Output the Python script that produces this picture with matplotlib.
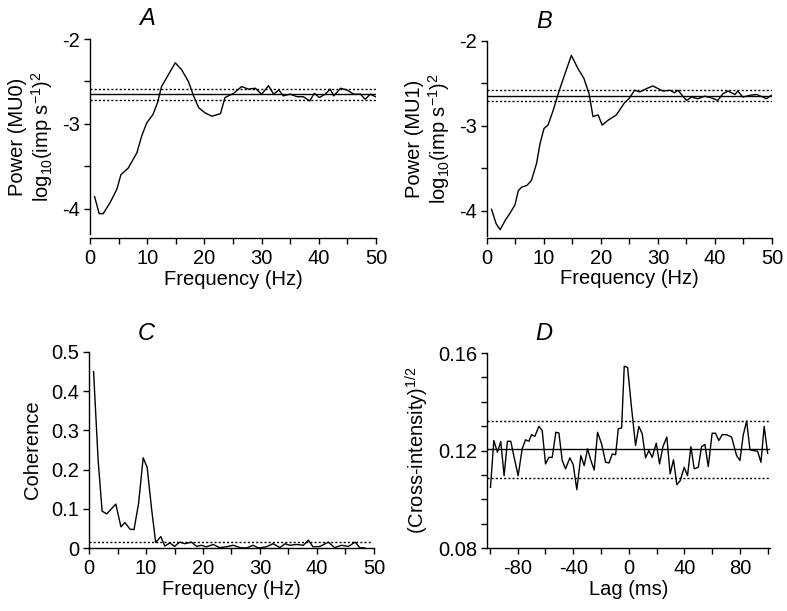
import matplotlib
matplotlib.use("Agg")
import matplotlib.pyplot as plt
from matplotlib.ticker import MultipleLocator, FixedLocator

plt.rcParams['font.family'] = ['Liberation Sans', 'DejaVu Sans']
plt.rcParams['mathtext.default'] = 'regular'
plt.rcParams['font.size'] = 14.5

# panel A: power spectrum MU0
freq_a = [0.8, 1.6, 2.3, 3.5, 4.7, 5.4, 6.7, 8.2, 9.0, 9.9, 11.0, 11.8, 12.5, 13.7, 14.9,
          16.0, 17.2, 18.1, 19.0, 20.1, 21.3, 22.8, 23.6, 25.1, 26.5, 27.7, 28.9, 30.0,
          31.2, 32.1, 33.0, 33.8, 35.0, 36.2, 37.3, 38.4, 39.2, 40.1, 41.1, 42.0, 42.6,
          43.8, 44.9, 46.1, 47.3, 48.1, 49.0, 49.9]
power_a = [-3.86, -4.06, -4.06, -3.93, -3.77, -3.60, -3.52, -3.34, -3.15, -2.99, -2.89,
           -2.75, -2.56, -2.42, -2.28, -2.36, -2.50, -2.67, -2.81, -2.87, -2.91, -2.88,
           -2.69, -2.64, -2.56, -2.59, -2.58, -2.65, -2.55, -2.65, -2.60, -2.67, -2.65,
           -2.68, -2.68, -2.73, -2.64, -2.69, -2.65, -2.59, -2.67, -2.58, -2.60, -2.65,
           -2.65, -2.71, -2.65, -2.68]
ref_a = [-2.651, -2.588, -2.714]  # mean, upper, lower

# panel B: power spectrum MU1
freq_b = [0.8, 1.6, 2.3, 3.2, 4.0, 4.9, 5.5, 6.1, 7.0, 7.8, 8.7, 9.3, 10.0, 10.7, 11.6,
          12.5, 13.3, 14.8, 16.0, 17.0, 17.9, 18.6, 19.5, 20.2, 21.3, 22.7, 24.2, 24.9,
          25.9, 26.8, 28.0, 29.1, 30.0, 30.9, 32.1, 32.9, 33.5, 35.0, 35.9, 37.0, 38.2,
          39.4, 40.5, 41.4, 42.3, 43.5, 44.0, 44.9, 46.1, 47.3, 48.4, 49.0, 49.9]
power_b = [-3.98, -4.15, -4.22, -4.11, -4.03, -3.93, -3.76, -3.72, -3.70, -3.64, -3.44,
           -3.21, -3.03, -2.99, -2.82, -2.62, -2.46, -2.17, -2.33, -2.44, -2.62, -2.89,
           -2.87, -2.99, -2.93, -2.87, -2.72, -2.68, -2.58, -2.60, -2.56, -2.53, -2.56,
           -2.59, -2.58, -2.61, -2.58, -2.70, -2.66, -2.68, -2.65, -2.67, -2.70, -2.62,
           -2.59, -2.63, -2.59, -2.66, -2.64, -2.63, -2.66, -2.68, -2.64]
ref_b = [-2.643, -2.580, -2.706]

# panel C: coherence
freq_c = [0.8, 1.6, 2.3, 3.1, 4.7, 5.6, 6.3, 7.2, 7.9, 8.7, 9.5, 10.2, 11.0, 11.7, 12.6,
          13.3, 14.2, 15.0, 15.9, 16.8, 18.0, 18.9, 19.7, 20.6, 21.8, 22.9, 24.1, 25.3,
          26.5, 27.6, 28.8, 29.7, 31.1, 32.3, 33.5, 34.4, 35.2, 36.4, 37.6, 38.5, 39.3,
          40.5, 42.0, 43.1, 44.3, 45.5, 46.7, 47.5, 48.4]
coh_c = [0.45, 0.224, 0.094, 0.087, 0.112, 0.054, 0.065, 0.048, 0.047, 0.114, 0.230,
         0.206, 0.097, 0.014, 0.029, 0.005, 0.013, 0.004, 0.015, 0.011, 0.015, 0.004,
         0.007, 0.003, 0.009, 0.001, 0.003, 0.007, 0.001, 0.0, 0.007, 0.0, 0.003, 0.011,
         0.001, 0.011, 0.007, 0.009, 0.007, 0.020, 0.003, 0.004, 0.015, 0.001, 0.007,
         0.004, 0.015, 0.001, 0.0]
coh_limit = 0.015

# panel D: cross-intensity
lag_d = [-99.5, -97.1, -94.5, -92.1, -89.7, -87.3, -84.9, -82.5, -79.6, -76.7, -74.3,
         -71.9, -70.0, -67.6, -64.7, -62.3, -59.9, -57.5, -55.1, -52.5, -50.3, -47.9,
         -45.5, -42.4, -40.0, -37.4, -34.5, -32.1, -29.7, -27.3, -24.9, -22.5, -19.6,
         -16.7, -14.3, -11.9, -9.5, -7.6, -5.2, -3.3, -0.9, 1.9, 4.8, 7.2, 9.6, 12.0,
         14.4, 16.8, 19.7, 22.1, 24.5, 27.3, 29.7, 32.1, 34.5, 36.9, 39.8, 42.2, 44.6,
         47.0, 49.9, 52.3, 54.7, 57.1, 59.9, 62.3, 64.7, 67.1, 70.3, 73.9, 77.5, 79.9,
         82.2, 84.7, 87.1, 89.4, 92.6, 95.0, 97.3, 99.8]
ci_d = [0.1049, 0.1241, 0.1193, 0.1237, 0.1097, 0.1238, 0.1238, 0.1172, 0.1097, 0.1207,
        0.1244, 0.1238, 0.1265, 0.1258, 0.1299, 0.1282, 0.1145, 0.1172, 0.1172, 0.1275,
        0.1272, 0.1159, 0.1125, 0.1170, 0.1142, 0.1039, 0.1179, 0.1138, 0.1207, 0.1159,
        0.1120, 0.1275, 0.1227, 0.1152, 0.1149, 0.1186, 0.1183, 0.1289, 0.1293, 0.1546,
        0.1541, 0.1378, 0.1221, 0.1299, 0.1269, 0.1170, 0.1200, 0.1172, 0.1230, 0.1145,
        0.1216, 0.1255, 0.1104, 0.1162, 0.1060, 0.1076, 0.1131, 0.1097, 0.1216, 0.1125,
        0.1131, 0.1216, 0.1225, 0.1134, 0.1271, 0.1271, 0.1241, 0.1265, 0.1265, 0.1255,
        0.1179, 0.1159, 0.1262, 0.1321, 0.1203, 0.1200, 0.1197, 0.1152, 0.1299, 0.1189]
ref_d = [0.1205, 0.1322, 0.1087]
lag_ticks = [-80, -40, 0, 40, 80]

LW = 1.0
FS = 14.5
DOTS = (0, (1.5, 1.5))


def style(ax):
    for s in ['top', 'right']:
        ax.spines[s].set_visible(False)
    ax.spines['left'].set_linewidth(1.0)
    ax.spines['bottom'].set_linewidth(1.0)
    ax.tick_params(which='both', direction='out', length=4, width=1.0, labelsize=FS, pad=3)
    ax.tick_params(axis='x', pad=4)


def letter(ax, s, y):
    ax.text(0.2, y, s, transform=ax.transAxes, fontsize=17, fontstyle='italic',
            ha='center', va='center')


fig = plt.figure(figsize=(7.87, 6.11), dpi=100)

# A
ax = fig.add_axes([0.1144, 0.617, 0.3634, 0.319])
ax.plot(freq_a, power_a, color='black', lw=LW)
ax.axhline(ref_a[0], color='black', lw=LW)
ax.axhline(ref_a[1], color='black', lw=LW, ls=DOTS)
ax.axhline(ref_a[2], color='black', lw=LW, ls=DOTS)
ax.set_xlim(0, 50)
ax.set_ylim(-4.3, -2)
ax.set_yticks([-4, -3, -2])
ax.set_yticklabels(['-4', '-3', '-2'])
ax.yaxis.set_minor_locator(FixedLocator([-3.5, -2.5]))
ax.xaxis.set_major_locator(MultipleLocator(10))
ax.xaxis.set_minor_locator(MultipleLocator(5))
ax.spines['bottom'].set_position(('outward', 3))
style(ax)
ax.set_xlabel('Frequency (Hz)', labelpad=1)
ax.set_ylabel('Power (MU0)\nlog$_{10}$(imp s$^{-1}$)$^2$', labelpad=5, linespacing=1.15)
letter(ax, 'A', 1.105)

# B
ax = fig.add_axes([0.6188, 0.613, 0.3621, 0.320])
ax.plot(freq_b, power_b, color='black', lw=LW)
ax.axhline(ref_b[0], color='black', lw=LW)
ax.axhline(ref_b[1], color='black', lw=LW, ls=DOTS)
ax.axhline(ref_b[2], color='black', lw=LW, ls=DOTS)
ax.set_xlim(0, 50)
ax.set_ylim(-4.3, -2)
ax.set_yticks([-4, -3, -2])
ax.set_yticklabels(['-4', '-3', '-2'])
ax.yaxis.set_minor_locator(FixedLocator([-3.5, -2.5]))
ax.xaxis.set_major_locator(MultipleLocator(10))
ax.xaxis.set_minor_locator(MultipleLocator(5))
ax.spines['bottom'].set_position(('outward', 1))
style(ax)
ax.set_xlabel('Frequency (Hz)', labelpad=1)
ax.set_ylabel('Power (MU1)\nlog$_{10}$(imp s$^{-1}$)$^2$', labelpad=5, linespacing=1.15)
letter(ax, 'B', 1.10)

# C
ax = fig.add_axes([0.1131, 0.1031, 0.3621, 0.3208])
ax.plot(freq_c, coh_c, color='black', lw=LW)
ax.plot([0, 49.5], [coh_limit, coh_limit], color='black', lw=LW, ls=DOTS)
ax.set_xlim(0, 50)
ax.set_ylim(0, 0.5)
ax.set_yticks([0, 0.1, 0.2, 0.3, 0.4, 0.5])
ax.set_yticklabels(['0', '0.1', '0.2', '0.3', '0.4', '0.5'])
ax.xaxis.set_major_locator(MultipleLocator(10))
ax.xaxis.set_minor_locator(MultipleLocator(5))
style(ax)
ax.set_xlabel('Frequency (Hz)', labelpad=1)
ax.set_ylabel('Coherence', labelpad=7)
letter(ax, 'C', 1.095)

# D
ax = fig.add_axes([0.6188, 0.1031, 0.3596, 0.3191])
ax.plot(lag_d, ci_d, color='black', lw=LW)
ax.axhline(ref_d[0], color='black', lw=LW)
ax.axhline(ref_d[1], color='black', lw=LW, ls=DOTS)
ax.axhline(ref_d[2], color='black', lw=LW, ls=DOTS)
ax.set_xlim(-102, 101.5)
ax.set_ylim(0.08, 0.16)
ax.set_yticks([0.08, 0.12, 0.16])
ax.set_yticklabels(['0.08', '0.12', '0.16'])
ax.yaxis.set_minor_locator(MultipleLocator(0.01))
ax.set_xticks(lag_ticks)
ax.set_xticklabels([str(t) for t in lag_ticks])
ax.xaxis.set_minor_locator(FixedLocator([-100, -60, -20, 20, 60, 100]))
style(ax)
ax.set_xlabel('Lag (ms)', labelpad=1)
ax.set_ylabel('(Cross-intensity)$^{1/2}$', labelpad=5)
letter(ax, 'D', 1.10)

fig.savefig('out.png', dpi=100, facecolor='white')
